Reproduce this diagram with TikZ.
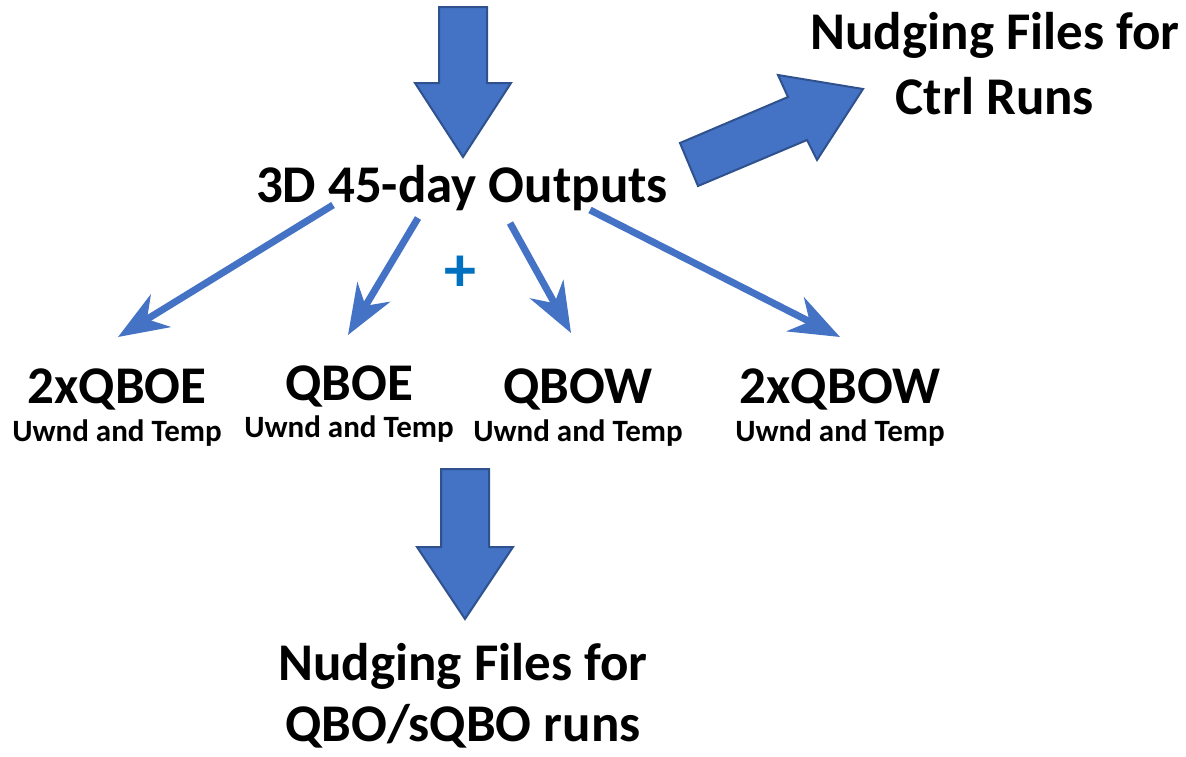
\documentclass[tikz,border=0pt]{standalone}
\usepackage{fontspec}
\setmainfont{Carlito}
\usetikzlibrary{positioning,arrows.meta}
\definecolor{boxblue}{HTML}{4472C4}
\definecolor{boxedge}{HTML}{2F528F}
\definecolor{plusblue}{HTML}{0070C0}

\begin{document}
\begin{tikzpicture}
[
  x=1pt, y=-1pt,
  bigtext/.style={font=\fontsize{53}{65}\selectfont\bfseries, align=center, inner sep=0pt},
  runtext/.style={font=\fontsize{53}{60}\selectfont\bfseries, inner sep=0pt, anchor=base},
  subtext/.style={font=\fontsize{31}{36}\selectfont\bfseries, inner sep=0pt, anchor=base},
  blockarrow/.style={fill=boxblue, draw=boxedge, line width=2pt, line join=miter},
  feed/.style={draw=boxblue, line width=7pt, -{Stealth[length=50pt,width=38pt,inset=16pt]}}
]
 \useasboundingbox (0,0) rectangle (1186,756);

 % big arrows
 \draw[blockarrow] (439,7) -- (487,7) -- (487,83) -- (511,83) -- (463,157) -- (415,83) -- (439,83) -- cycle;
 \draw[blockarrow] (680,143) -- (788,97) -- (778,75) -- (863,89) -- (817,160) -- (807,140) -- (698,186) -- cycle;
 \draw[blockarrow] (441,469) -- (489,469) -- (489,547) -- (513,547) -- (465,619) -- (417,547) -- (441,547) -- cycle;

 % texts
 \node[bigtext, anchor=base] (outputs) at (462,202) {3D 45-day Outputs};
 \node[bigtext] (ctrl) at (995,64) {Nudging Files for\\Ctrl Runs};
 \node[bigtext, font=\fontsize{53}{61}\selectfont\bfseries] (qboruns) at (463,696) {Nudging Files for\\QBO/sQBO runs};

 \node[runtext] (qboe2) at (117,403) {2xQBOE};
 \node[runtext] (qboe) at (349,400) {QBOE};
 \node[runtext] (qbow) at (578,403) {QBOW};
 \node[runtext] (qbow2) at (840,403) {2xQBOW};
 \node[subtext] (qboe2sub) [below=38pt of qboe2.base, anchor=base] {Uwnd and Temp};
 \node[subtext] (qboesub) [below=37pt of qboe.base, anchor=base] {Uwnd and Temp};
 \node[subtext] (qbowsub) [below=38pt of qbow.base, anchor=base] {Uwnd and Temp};
 \node[subtext] (qbow2sub) [below=38pt of qbow2.base, anchor=base] {Uwnd and Temp};

 \node[text=plusblue, font=\fontsize{64}{64}\selectfont\bfseries, inner sep=0pt, anchor=base] (plus) at (460,291) {+};

 % thin arrows
 \coordinate (f1s) at (333,205);
 \coordinate (f1e) at (118,337);
 \coordinate (f2s) at (418,218);
 \coordinate (f2e) at (348,335);
 \coordinate (f3s) at (510,223);
 \coordinate (f3e) at (571,333);
 \coordinate (f4s) at (590,210);
 \coordinate (f4e) at (840,337);
 \draw[feed] (f1s) -- (f1e);
 \draw[feed] (f2s) -- (f2e);
 \draw[feed] (f3s) -- (f3e);
 \draw[feed] (f4s) -- (f4e);
\end{tikzpicture}
\end{document}
